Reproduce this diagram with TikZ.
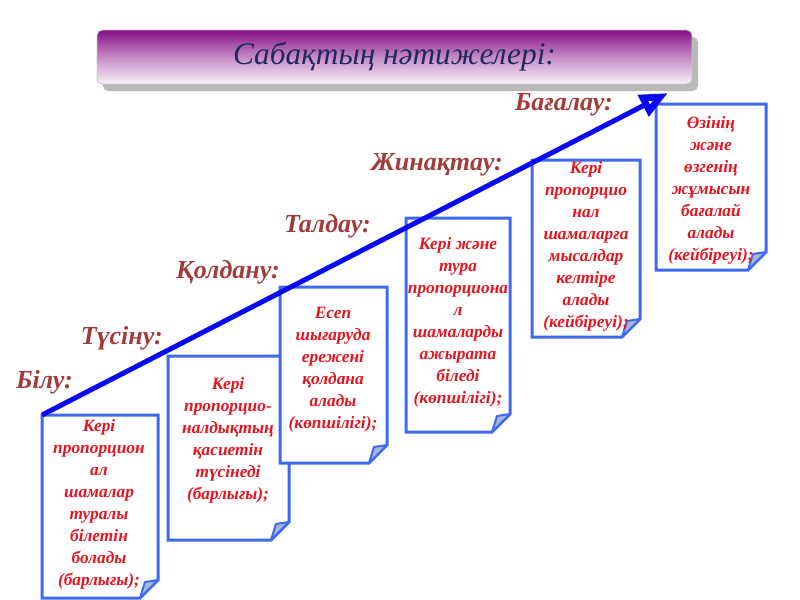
\documentclass[tikz,border=0pt]{standalone}
\usepackage{fontspec}
\setmainfont{Liberation Serif}
\usetikzlibrary{arrows.meta,shadows}
\definecolor{boxblue}{HTML}{3D6AF0}
\definecolor{foldfill}{HTML}{A9B6D8}
\definecolor{txtred}{HTML}{E6141E}
\definecolor{lblred}{HTML}{A33B3B}
\definecolor{titlenavy}{HTML}{1E2A5E}
\definecolor{arrowblue}{HTML}{0A0AF2}
\definecolor{titletop}{HTML}{860F86}
\definecolor{titlebot}{HTML}{F8F2F8}
\definecolor{titlemid}{HTML}{C68AC6}
\tikzset{
  titlebox/.style={rounded corners=4pt, draw=gray!45, line width=0.6pt,
    top color=titletop, bottom color=titlebot, middle color=titlemid,
    text=titlenavy, font=\fontsize{23.5}{27}\selectfont\itshape,
    drop shadow={shadow xshift=4.5pt, shadow yshift=-5.25pt, fill=gray!55, opacity=1}},
  boxline/.style={draw=boxblue, fill=white, line width=2.25pt, line join=miter},
  foldstyle/.style={draw=boxblue, fill=foldfill, line width=1.5pt, line join=round},
  boxtext/.style={anchor=north, align=center, inner sep=0pt, text=txtred,
    font=\fontsize{13}{16.5}\selectfont\bfseries\itshape},
  lbl/.style={anchor=east, inner sep=0pt, text=lblred,
    font=\fontsize{19.5}{22}\selectfont\bfseries\itshape},
  bigarrow/.style={draw=arrowblue, line width=3.75pt,
    -{Triangle[open, length=21pt, width=17pt, line width=5pt, line join=miter]}}
}
\newcommand\docbox[4]{%
  \path[boxline] (#1,#2) -- (#3,#2) -- (#3,{#4-18}) -- ({#3-18},#4) -- (#1,#4) -- cycle;
  \path[foldstyle] (#3,{#4-18}) -- ({#3-18},#4) -- ({#3-13},{#4-16}) -- cycle;
}
\begin{document}
\begin{tikzpicture}[x=0.75pt,y=-0.75pt]
\useasboundingbox (0,0) rectangle (800,600);

% title
\node[titlebox, minimum width=446.25pt, minimum height=40.5pt] (title) at (394.5,57) {Сабақтың нәтижелері:};

% boxes
\docbox{42}{415}{158}{598}
\docbox{168}{356}{289}{540}
\docbox{280}{287}{387}{463}
\docbox{406}{218}{510}{432}
\docbox{532}{160}{640}{337}
\docbox{656}{104}{766}{270}

\node[boxtext] (t1) at (99,419) {Кері\\пропорцион\\ал\\шамалар\\туралы\\білетін\\болады\\(барлығы);};
\node[boxtext] (t2) at (228,377) {Кері\\пропорцио-\\налдықтың\\қасиетін\\түсінеді\\(барлығы);};
\node[boxtext] (t3) at (333,307) {Есеп\\шығаруда\\ережені\\қолдана\\алады\\(көпшілігі);};
\node[boxtext] (t4) at (458,237) {Кері және\\тура\\пропорциона\\л\\шамаларды\\ажырата\\біледі\\(көпшілігі);};
\node[boxtext] (t5) at (586,161) {Кері\\пропорцио\\нал\\шамаларға\\мысалдар\\келтіре\\алады\\(кейбіреуі);};
\node[boxtext] (t6) at (711,116) {Өзінің\\және\\өзгенің\\жұмысын\\бағалай\\алады\\(кейбіреуі);};

% labels
\node[lbl] (l1) at (73,382) {Білу:};
\node[lbl] (l2) at (163,338) {Түсіну:};
\node[lbl] (l3) at (280,272) {Қолдану:};
\node[lbl] (l4) at (371,226) {Талдау:};
\node[lbl] (l5) at (503,165) {Жинақтау:};
\node[lbl] (l6) at (613,105) {Бағалау:};

% arrow
\coordinate (as) at (42,415);
\coordinate (ae) at (668,93);
\draw[bigarrow] (as) -- (ae);
\end{tikzpicture}
\end{document}
